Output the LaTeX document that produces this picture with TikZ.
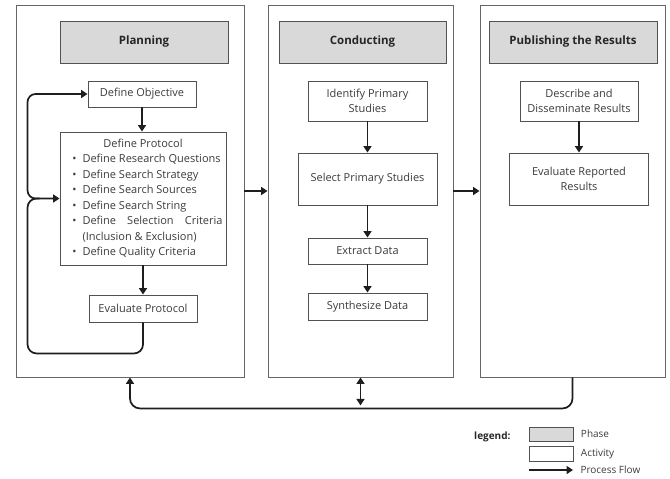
\documentclass[tikz,border=0pt]{standalone}
\usepackage{fontspec}
\setmainfont{Open Sans}
\usepackage{enumitem}
\usetikzlibrary{arrows.meta, positioning, calc}
\definecolor{boxline}{HTML}{666666}
\definecolor{phasefill}{HTML}{D9D9D9}
\definecolor{acttext}{HTML}{3C3C3C}
\definecolor{flowline}{HTML}{1E1E1E}
\hyphenpenalty=10000
\exhyphenpenalty=10000
\tikzset{
  stage/.style={rectangle, draw=boxline, line width=0.9pt, inner sep=0pt},
  phase/.style={
    rectangle, draw=boxline!80!black, fill=phasefill, line width=0.9pt, inner sep=0pt,
    minimum height=42pt,
    % header text
    font=\fontsize{11.5}{14}\selectfont\bfseries, text=black!85
  },
  act/.style={
    rectangle, draw=boxline!80!black, fill=white, line width=0.9pt, inner sep=2pt,
    align=center, font=\fontsize{11}{15.5}\selectfont, text=acttext
  },
  flow/.style={draw=flowline, line width=1.7pt, ->},
  legtext/.style={font=\fontsize{10}{12}\selectfont, text=acttext}
}

\begin{document}
\begin{tikzpicture}[x=1pt, y=-1pt, >={Triangle[length=6.5pt, width=8pt]}]
  \useasboundingbox (0,0) rectangle (670,479);
  \node[stage, minimum width=228pt, minimum height=372pt] (planning) at (130,191) {};
  \node[stage, minimum width=185pt, minimum height=372pt] (conducting) at (360.5,191) {};
  \node[stage, minimum width=185pt, minimum height=372pt] (publishing) at (572.5,191) {};

  \node[phase, minimum width=168pt] (planning-h) at (144,42) {Planning};
  \node[phase, minimum width=167pt] (conducting-h) at (362.5,42) {Conducting};
  \node[phase, minimum width=168pt] (publishing-h) at (573,42) {Publishing the Results};

  \node[act, minimum width=108pt, minimum height=26pt] (objective) at (142,94) {Define Objective};
  \node[act, align=justify, inner xsep=3.5pt, text width=159pt, minimum height=133pt] (protocol) at (143,198.5) {%
    \centerline{Define Protocol}
    \begin{itemize}[nosep, leftmargin=19pt, labelsep=6pt, label=\textbullet]
      \item Define Research Questions
      \item Define Search Strategy
      \item Define Search Sources
      \item Define Search String
      \item Define Selection Criteria (Inclusion \& Exclusion)
      \item Define Quality Criteria
    \end{itemize}};
  \node[act, minimum width=108pt, minimum height=27pt] (evalprot) at (143,308.5) {Evaluate Protocol};

  \node[act, minimum width=119pt, minimum height=40pt] (identify) at (367.5,101) {Identify Primary\\Studies};
  \node[act, minimum width=139pt, minimum height=52pt] (select) at (367.5,179) {Select Primary Studies};
  \node[act, minimum width=119pt, minimum height=26pt] (extract) at (367.5,251) {Extract Data};
  \node[act, minimum width=119pt, minimum height=27pt] (synth) at (367.5,306.5) {Synthesize Data};

  \node[act, minimum width=118pt, minimum height=40pt] (describe) at (579,101) {Describe and\\Disseminate Results};
  \node[act, minimum width=139pt, minimum height=52pt] (evalrep) at (579,179) {Evaluate Reported\\Results};

  \draw[flow] (objective.south) -- (objective.south |- protocol.north);
  \draw[flow] (protocol.south) -- (protocol.south |- evalprot.north);
  \draw[flow, rounded corners=9pt] (evalprot.south) -- ++(0,31) -| ($(protocol.west)+(-32,0)$) -- (protocol.west);
  \draw[flow, rounded corners=8pt] ($(protocol.west)+(-20,0)$) -| ($(objective.west)+(-60,0)$) -- (objective.west);

  \draw[flow] (identify.south) -- (select.north);
  \draw[flow] (select.south) -- (extract.north);
  \draw[flow] (extract.south) -- (synth.north);
  \draw[flow] (describe.south) -- (evalrep.north);

  \draw[flow] (planning.east) -- (conducting.west);
  \draw[flow] (conducting.east) -- (publishing.west);
  \draw[flow, rounded corners=10pt] (publishing.south) -- ++(0,31) -| (planning.south);
  \draw[flow, <->] (conducting.south) -- ++(0,28);

  \node[anchor=east, font=\fontsize{10}{12}\selectfont\bfseries, text=black!85] (legend) at (514,437) {legend:};
  \node[phase, minimum width=44pt, minimum height=14pt] (leg-phase) at (551,434) {};
  \node[act, minimum width=44pt, minimum height=15pt] (leg-act) at (551,454) {};
  \coordinate (leg-start) at (529,470);
  \coordinate (leg-end) at (573,470);
  \draw[flow] (leg-start) -- (leg-end);
  \node[legtext, right=4pt of leg-phase] (lab-phase) {Phase};
  \node[legtext, right=4pt of leg-act] (lab-act) {Activity};
  \node[legtext, right=4pt of leg-end] (lab-flow) {Process Flow};
\end{tikzpicture}
\end{document}
